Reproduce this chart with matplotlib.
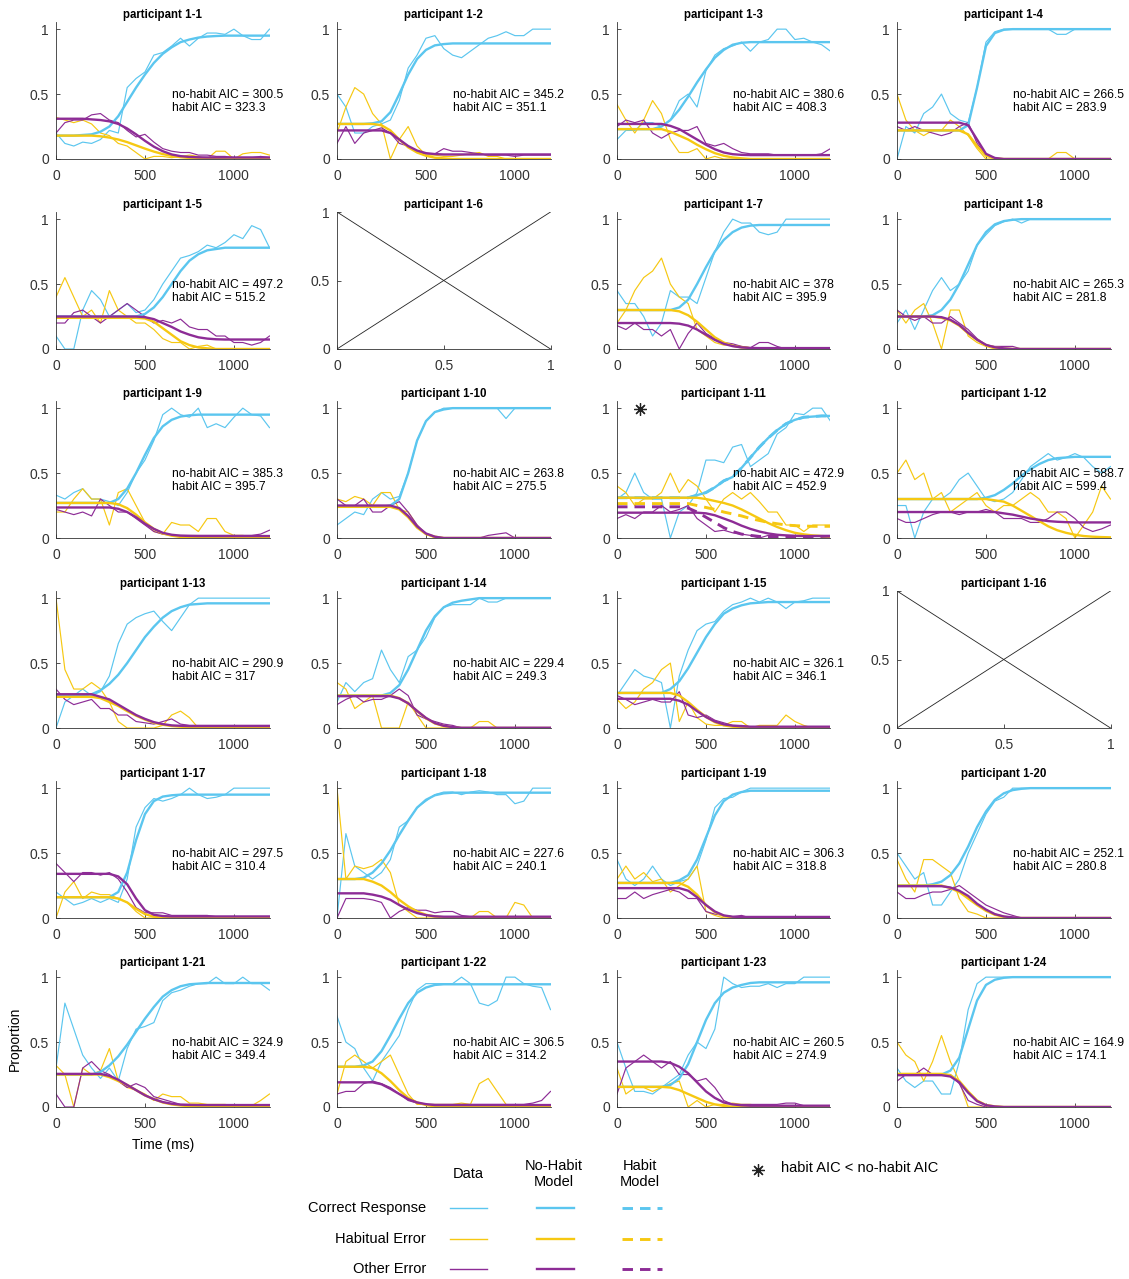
import matplotlib.pyplot as plt
from matplotlib.lines import Line2D

plt.rcParams['font.family'] = ['Liberation Sans', 'DejaVu Sans']

W, H = 1129, 1279
t = list(range(0, 1201, 50))   # ms, one value every 50 ms

c_blue = '#5BC6EF'
c_yel = '#F6C812'
c_pur = '#8D2C96'
axis_col = '#333333'

# ---------------- per participant: data (c, h, o) and no-habit model (cm, hm, om) ----------------
p1_c = [0.2,0.12,0.1,0.13,0.12,0.15,0.22,0.2,0.55,0.62,0.67,0.8,0.82,0.87,0.93,0.87,0.93,0.97,0.97,0.96,1.0,0.95,0.92,0.92,1.0]
p1_h = [0.32,0.3,0.28,0.3,0.27,0.2,0.18,0.12,0.1,0.05,0.0,0.02,0.02,0.01,0.02,0.03,0.02,0.0,0.06,0.06,0.0,0.04,0.05,0.05,0.03]
p1_o = [0.2,0.28,0.3,0.3,0.34,0.35,0.3,0.28,0.22,0.17,0.19,0.13,0.08,0.06,0.05,0.05,0.03,0.03,0.02,0.02,0.01,0.01,0.01,0.02,0.01]
p1_cm = [0.18,0.18,0.18,0.185,0.19,0.21,0.25,0.33,0.44,0.55,0.65,0.74,0.81,0.86,0.9,0.92,0.935,0.943,0.947] + [0.95]*6
p1_hm = [0.18]*5 + [0.175,0.165,0.15,0.13,0.105,0.08,0.057,0.038,0.024,0.014,0.008,0.005,0.003,0.002,0.001] + [0]*5
p1_om = [0.31]*4 + [0.305,0.3,0.29,0.27,0.235,0.19,0.14,0.095,0.06,0.035,0.022,0.016,0.013] + [0.012]*8

p2_c = [0.5,0.4,0.2,0.2,0.25,0.27,0.3,0.45,0.7,0.8,0.93,0.95,0.85,0.8,0.78,0.83,0.88,0.93,0.95,0.98,0.95,0.95,1.0,1.0,1.0]
p2_h = [0.2,0.4,0.55,0.5,0.35,0.27,0.0,0.15,0.25,0.1,0.03,0.03,0.02,0.02,0.03,0.04,0.05,0.02,0.02,0.0,0.0,0.0,0.0,0.0,0.0]
p2_o = [0.12,0.25,0.12,0.2,0.22,0.24,0.2,0.12,0.1,0.05,0.04,0.04,0.08,0.06,0.06,0.05,0.04,0.03,0.03,0.03,0.02,0.03,0.03,0.03,0.03]
p2_cm = [0.27]*4 + [0.275,0.29,0.36,0.5,0.65,0.77,0.84,0.875,0.885] + [0.89]*12
p2_hm = [0.27]*5 + [0.26,0.22,0.15,0.09,0.05,0.025,0.01,0.005] + [0]*12
p2_om = [0.22]*6 + [0.2,0.15,0.1,0.065,0.045,0.038] + [0.035]*13

p3_c = [0.15,0.22,0.22,0.28,0.28,0.25,0.3,0.45,0.5,0.4,0.68,0.8,0.85,0.87,0.9,0.83,0.9,0.92,1.0,1.0,0.92,0.93,0.9,0.88,0.83]
p3_h = [0.42,0.3,0.2,0.3,0.45,0.35,0.15,0.05,0.05,0.08,0.0,0.02,0.0,0.0] + [0]*11
p3_o = [0.25,0.3,0.28,0.3,0.2,0.16,0.2,0.22,0.22,0.25,0.12,0.1,0.12,0.08,0.05,0.04,0.04,0.04,0.03,0.03,0.03,0.03,0.03,0.04,0.08]
p3_cm = [0.23]*5 + [0.25,0.3,0.38,0.48,0.59,0.69,0.78,0.84,0.88,0.895] + [0.9]*10
p3_hm = [0.23]*6 + [0.21,0.18,0.15,0.11,0.075,0.045,0.025,0.012,0.005] + [0]*10
p3_om = [0.27]*6 + [0.255,0.23,0.19,0.15,0.11,0.075,0.05,0.037,0.032] + [0.03]*10

p4_c = [0.0,0.25,0.2,0.35,0.4,0.5,0.35,0.3,0.28,0.55,0.9,0.98] + [1.0]*6 + [0.96,0.96] + [1.0]*5
p4_h = [0.5,0.3,0.22,0.18,0.22,0.22,0.3,0.25,0.18,0.08] + [0]*8 + [0.05,0.05] + [0]*5
p4_o = [0.25,0.22,0.25,0.22,0.2,0.18,0.2,0.25,0.28,0.12,0.03] + [0]*14
p4_cm = [0.22]*8 + [0.26,0.55,0.87,0.97,0.995] + [1.0]*12
p4_hm = [0.22]*8 + [0.19,0.1,0.025,0.005] + [0]*13
p4_om = [0.28]*8 + [0.26,0.15,0.04,0.008] + [0]*13

p5_c = [0.1,0.0,0.0,0.3,0.45,0.38,0.25,0.3,0.35,0.28,0.3,0.38,0.5,0.6,0.7,0.72,0.75,0.8,0.78,0.82,0.88,0.85,0.95,0.92,0.78]
p5_h = [0.4,0.55,0.4,0.25,0.3,0.2,0.45,0.3,0.25,0.2,0.2,0.15,0.08,0.05,0.05,0.0,0.02,0.03] + [0]*7
p5_o = [0.2,0.2,0.28,0.3,0.25,0.2,0.25,0.3,0.35,0.3,0.25,0.2,0.22,0.2,0.23,0.17,0.15,0.15,0.1,0.1,0.05,0.05,0.03,0.05,0.1]
p5_cm = [0.25]*10 + [0.27,0.32,0.4,0.5,0.6,0.68,0.73,0.76,0.77] + [0.78]*6
p5_hm = [0.24]*10 + [0.235,0.21,0.16,0.11,0.06,0.03,0.012,0.005] + [0]*7
p5_om = [0.25]*10 + [0.245,0.23,0.2,0.17,0.135,0.11,0.09,0.08,0.075] + [0.073]*6

p7_c = [0.45,0.35,0.35,0.25,0.1,0.2,0.45,0.4,0.4,0.35,0.55,0.75,0.9,1.0,0.97,0.97,0.9,0.88,0.9] + [1.0]*6
p7_h = [0.2,0.3,0.45,0.55,0.6,0.7,0.5,0.4,0.35,0.15,0.1,0.05,0.03,0.03,0.02,0.01] + [0]*9
p7_o = [0.18,0.15,0.2,0.15,0.15,0.1,0.15,0.0,0.12,0.2,0.12,0.08,0.05,0.04,0.02,0.01,0.05,0.05,0.02] + [0]*6
p7_cm = [0.3]*7 + [0.32,0.38,0.5,0.63,0.75,0.84,0.9,0.935,0.95] + [0.955]*9
p7_hm = [0.3]*7 + [0.29,0.26,0.21,0.15,0.09,0.05,0.025,0.012,0.006] + [0]*9
p7_om = [0.2]*7 + [0.195,0.18,0.15,0.11,0.07,0.04,0.022,0.012,0.008] + [0.007]*9

p8_c = [0.2,0.3,0.15,0.3,0.45,0.55,0.45,0.5,0.6,0.8,0.88,0.95,0.98,1.0,0.97] + [1.0]*10
p8_h = [0.3,0.2,0.3,0.35,0.2,0.0,0.3,0.3,0.1,0.05,0.02] + [0]*14
p8_o = [0.3,0.25,0.22,0.25,0.2,0.2,0.25,0.2,0.15,0.08,0.03,0.02,0.02,0.02] + [0]*11
p8_cm = [0.25]*4 + [0.26,0.3,0.38,0.5,0.65,0.8,0.9,0.96,0.985,0.995] + [1.0]*11
p8_hm = [0.25]*5 + [0.24,0.22,0.18,0.12,0.07,0.03,0.012,0.004] + [0]*12
p8_om = [0.25]*5 + [0.245,0.225,0.185,0.125,0.072,0.032,0.013,0.005] + [0]*12

p9_c = [0.33,0.3,0.35,0.38,0.3,0.3,0.28,0.25,0.35,0.5,0.6,0.75,0.95,1.0,0.95,0.93,1.0,0.85,0.88,0.85,0.93,1.0,0.95,0.94,0.85]
p9_h = [0.2,0.2,0.3,0.38,0.3,0.3,0.1,0.35,0.38,0.25,0.12,0.05,0.03,0.12,0.1,0.1,0.05,0.15,0.15,0.05,0.02,0.02,0.01,0.0,0.0]
p9_o = [0.22,0.2,0.18,0.2,0.17,0.3,0.25,0.2,0.2,0.15,0.1,0.05,0.03] + [0.02]*10 + [0.03,0.06]
p9_cm = [0.27]*7 + [0.3,0.38,0.5,0.64,0.77,0.86,0.91,0.935,0.945] + [0.95]*9
p9_hm = [0.27]*7 + [0.26,0.23,0.18,0.12,0.07,0.035,0.018,0.008,0.004] + [0]*9
p9_om = [0.235]*7 + [0.225,0.2,0.16,0.11,0.07,0.04,0.025,0.018,0.016] + [0.015]*9

p10_c = [0.1,0.15,0.2,0.18,0.3,0.35,0.3,0.32,0.5,0.75,0.9,0.97] + [1.0]*7 + [0.92] + [1.0]*5
p10_h = [0.3,0.28,0.32,0.3,0.25,0.35,0.35,0.22,0.2,0.1,0.03] + [0]*14
p10_o = [0.3,0.25,0.25,0.3,0.2,0.2,0.25,0.28,0.2,0.1,0.03,0.01] + [0]*5 + [0.02,0.03,0.04] + [0]*5
p10_cm = [0.24]*6 + [0.25,0.3,0.5,0.75,0.9,0.97,0.99] + [1.0]*12
p10_hm = [0.24]*7 + [0.22,0.16,0.08,0.03,0.01] + [0]*13
p10_om = [0.25]*7 + [0.23,0.17,0.09,0.035,0.01] + [0]*13

p11_c = [0.3,0.35,0.5,0.35,0.3,0.3,0.0,0.2,0.25,0.35,0.6,0.6,0.58,0.7,0.72,0.55,0.6,0.65,0.8,0.85,0.96,0.95,1.0,1.0,0.9]
p11_h = [0.4,0.35,0.25,0.3,0.3,0.35,0.5,0.35,0.45,0.4,0.3,0.2,0.3,0.35,0.3,0.35,0.28,0.2,0.2,0.1,0.1,0.05,0.1,0.1,0.1]
p11_o = [0.15,0.18,0.15,0.2,0.2,0.25,0.2,0.22,0.25,0.15,0.1,0.05,0.06,0.04,0.03,0.02,0.0] + [0.02]*8
p11_cm = [0.31]*9 + [0.33,0.35,0.39,0.44,0.47,0.54,0.62,0.7,0.77,0.83,0.88,0.91,0.93,0.935,0.94,0.94]
p11_hm = [0.31]*10 + [0.3,0.285,0.27,0.25,0.22,0.185,0.15,0.115,0.085,0.06,0.04,0.028,0.02,0.015,0.012]
p11_om = [0.195]*9 + [0.195,0.19,0.175,0.15,0.125,0.095,0.07,0.05,0.035,0.025,0.02,0.016] + [0.015]*4
# habit model (only differs visibly for 1-11)
p11_ch = [0.31]*9 + [0.33,0.35,0.39,0.44,0.47,0.54,0.62,0.7,0.77,0.83,0.88,0.91,0.93,0.935,0.94,0.94]
p11_hh = [0.265]*9 + [0.25,0.235,0.22,0.2,0.185,0.17,0.15,0.135,0.12,0.11,0.1,0.095,0.092,0.09,0.09,0.09]
p11_oh = [0.24]*8 + [0.23,0.2,0.16,0.12,0.08,0.05,0.03,0.02,0.012,0.008,0.006] + [0.005]*6

p12_c = [0.25,0.25,0.0,0.2,0.3,0.3,0.35,0.45,0.5,0.4,0.3,0.28,0.3,0.35,0.45,0.55,0.6,0.65,0.6,0.62,0.65,0.62,0.55,0.5,0.55]
p12_h = [0.5,0.6,0.45,0.5,0.3,0.35,0.2,0.25,0.3,0.35,0.25,0.2,0.25,0.25,0.3,0.35,0.3,0.2,0.2,0.15,0.0,0.1,0.2,0.4,0.3]
p12_o = [0.15,0.12,0.12,0.15,0.18,0.2,0.2,0.18,0.2,0.2,0.22,0.2,0.15,0.15,0.15,0.12,0.12,0.15,0.2,0.2,0.15,0.08,0.05,0.07,0.1]
p12_cm = [0.3]*10 + [0.31,0.33,0.37,0.42,0.48,0.53,0.57,0.6,0.615,0.62] + [0.625]*5
p12_hm = [0.3]*11 + [0.29,0.28,0.25,0.21,0.17,0.13,0.09,0.06,0.04,0.025,0.015,0.01,0.007,0.005]
p12_om = [0.2]*12 + [0.19,0.18,0.165,0.15,0.14,0.13,0.125,0.122] + [0.12]*5

p13_c = [0.0,0.2,0.25,0.3,0.25,0.28,0.4,0.65,0.8,0.85,0.88,0.9,0.82,0.75,0.85,0.95] + [1.0]*9
p13_h = [1.0,0.45,0.3,0.3,0.35,0.3,0.2,0.05,0.0,0.0,0.0,0.0,0.02,0.1,0.13,0.08] + [0]*9
p13_o = [0.3,0.22,0.18,0.2,0.22,0.15,0.15,0.1,0.1,0.05,0.04,0.03,0.05,0.07,0.03] + [0.02]*10
p13_cm = [0.25]*4 + [0.26,0.29,0.34,0.41,0.5,0.6,0.7,0.78,0.85,0.9,0.93,0.95,0.955] + [0.96]*8
p13_hm = [0.24]*5 + [0.23,0.2,0.17,0.13,0.095,0.065,0.04,0.025,0.015,0.01,0.006,0.004] + [0]*8
p13_om = [0.26]*5 + [0.24,0.22,0.18,0.14,0.1,0.07,0.045,0.03,0.02,0.017] + [0.015]*10

p14_c = [0.2,0.35,0.28,0.35,0.38,0.6,0.45,0.35,0.55,0.6,0.7,0.85,0.93,0.95,0.95,0.95,1.0,0.97,0.97] + [1.0]*6
p14_h = [0.35,0.3,0.15,0.2,0.25,0.0,0.0,0.0,0.2,0.1,0.0,0.0,0.0,0.0,0.0,0.0,0.05,0.05] + [0]*7
p14_o = [0.18,0.22,0.25,0.2,0.22,0.22,0.25,0.3,0.25,0.1,0.07,0.05,0.03,0.02] + [0]*11
p14_cm = [0.25]*6 + [0.27,0.33,0.45,0.6,0.75,0.86,0.93,0.965,0.98,0.99] + [1.0]*9
p14_hm = [0.25]*7 + [0.23,0.19,0.13,0.075,0.035,0.015,0.005] + [0]*11
p14_om = [0.245]*7 + [0.228,0.19,0.132,0.078,0.038,0.017,0.007] + [0.002]*11

p15_c = [0.25,0.35,0.45,0.4,0.38,0.35,0.0,0.4,0.6,0.75,0.8,0.82,0.9,0.95,0.97,1.0,0.97,1.0,0.97,0.92,0.97,0.98,1.0,1.0,1.0]
p15_h = [0.22,0.15,0.2,0.3,0.35,0.45,0.5,0.05,0.2,0.08,0.03,0.02,0.02,0.05,0.05,0.0,0.02,0.02,0.02,0.1,0.05,0.02,0.0,0.0,0.0]
p15_o = [0.25,0.22,0.18,0.2,0.22,0.2,0.2,0.28,0.1,0.08,0.1,0.06,0.04,0.02,0.02,0.01] + [0]*9
p15_cm = [0.27]*6 + [0.3,0.36,0.46,0.58,0.7,0.8,0.88,0.92,0.945,0.96,0.965] + [0.97]*8
p15_hm = [0.27]*7 + [0.25,0.2,0.14,0.085,0.045,0.02,0.01,0.005] + [0]*10
p15_om = [0.225]*7 + [0.21,0.18,0.13,0.085,0.05,0.028,0.018,0.013] + [0.01]*10

p17_c = [0.2,0.15,0.1,0.12,0.15,0.12,0.15,0.12,0.3,0.7,0.85,0.92,0.9,0.92,0.95,1.0,0.95,0.92,0.93,0.95] + [1.0]*5
p17_h = [0.0,0.2,0.28,0.15,0.2,0.18,0.18,0.15,0.12,0.05] + [0]*15
p17_o = [0.42,0.35,0.28,0.35,0.35,0.33,0.35,0.3,0.2,0.08,0.04,0.04,0.04,0.02,0.02,0.02,0.02,0.02] + [0.01]*7
p17_cm = [0.16]*7 + [0.2,0.35,0.6,0.8,0.9,0.935,0.945] + [0.95]*11
p17_hm = [0.16]*7 + [0.15,0.12,0.07,0.03,0.01] + [0]*13
p17_om = [0.34]*7 + [0.32,0.26,0.15,0.06,0.025,0.015] + [0.012]*12

p18_c = [0.0,0.65,0.4,0.35,0.3,0.35,0.45,0.7,0.75,0.85,0.9,0.95,0.97,0.97,0.95,0.97,0.98,0.97,0.95,0.95,0.88,0.9,1.0,1.0,1.0]
p18_h = [1.0,0.3,0.4,0.38,0.4,0.45,0.35,0.1,0.05,0.0,0.0,0.0,0.0,0.0,0.0,0.0,0.05,0.05,0.0,0.0,0.12,0.1,0.0,0.0,0.0]
p18_o = [0.0,0.15,0.15,0.15,0.14,0.12,0.0,0.05,0.08,0.06,0.06,0.04,0.05,0.05,0.02,0.01] + [0]*9
p18_cm = [0.3]*3 + [0.31,0.35,0.42,0.52,0.64,0.75,0.85,0.91,0.945,0.96] + [0.965]*12
p18_hm = [0.3]*4 + [0.28,0.25,0.2,0.14,0.09,0.05,0.025,0.012,0.005] + [0]*12
p18_om = [0.19]*4 + [0.18,0.165,0.14,0.1,0.065,0.038,0.022,0.013] + [0.01]*13

p19_c = [0.45,0.3,0.25,0.3,0.4,0.3,0.25,0.28,0.3,0.4,0.6,0.85,0.92,0.93,0.97] + [1.0]*10
p19_h = [0.3,0.4,0.3,0.35,0.28,0.3,0.2,0.25,0.3,0.4,0.05,0.02] + [0]*13
p19_o = [0.15,0.15,0.2,0.15,0.18,0.2,0.22,0.2,0.15,0.15,0.05,0.03,0.02,0.01,0.02] + [0]*10
p19_cm = [0.27]*7 + [0.29,0.33,0.45,0.62,0.79,0.9,0.95,0.97] + [0.98]*10
p19_hm = [0.27]*8 + [0.24,0.18,0.1,0.045,0.015,0.005] + [0]*11
p19_om = [0.23]*8 + [0.21,0.16,0.1,0.05,0.02,0.01] + [0.008]*11

p20_c = [0.5,0.4,0.3,0.35,0.1,0.1,0.2,0.3,0.5,0.65,0.8,0.9,0.93] + [1.0]*12
p20_h = [0.45,0.3,0.2,0.45,0.45,0.4,0.35,0.15,0.05,0.03] + [0]*15
p20_o = [0.2,0.15,0.15,0.18,0.2,0.2,0.22,0.25,0.2,0.15,0.1,0.07,0.04,0.02] + [0]*11
p20_cm = [0.25]*4 + [0.26,0.28,0.33,0.42,0.55,0.7,0.82,0.91,0.96,0.985,0.995] + [1.0]*10
p20_hm = [0.25]*6 + [0.23,0.2,0.15,0.1,0.055,0.025,0.01] + [0]*12
p20_om = [0.245]*6 + [0.235,0.21,0.17,0.11,0.065,0.03,0.012,0.005] + [0]*11

p21_c = [0.3,0.8,0.6,0.4,0.3,0.22,0.3,0.2,0.45,0.6,0.62,0.65,0.82,0.88,0.9,0.93,0.95,0.95,1.0,0.95,0.95,1.0,0.95,0.95,0.9]
p21_h = [0.32,0.25,0.0,0.3,0.25,0.28,0.45,0.2,0.15,0.13,0.1,0.05,0.1,0.08,0.08,0.03,0.03,0.02,0.02,0.02,0.01,0.01,0.01,0.05,0.1]
p21_o = [0.1,0.0,0.0,0.3,0.35,0.28,0.25,0.2,0.15,0.18,0.15,0.08,0.06,0.04,0.02,0.02] + [0.01]*9
p21_cm = [0.25]*5 + [0.27,0.32,0.39,0.48,0.58,0.68,0.77,0.85,0.9,0.93,0.945,0.95] + [0.955]*8
p21_hm = [0.25]*6 + [0.23,0.2,0.17,0.13,0.09,0.06,0.035,0.02,0.012,0.006,0.003] + [0]*8
p21_om = [0.255]*6 + [0.24,0.21,0.17,0.13,0.09,0.06,0.038,0.025,0.018,0.016] + [0.015]*9

p22_c = [0.7,0.5,0.45,0.3,0.2,0.35,0.45,0.55,0.75,0.9,0.95,0.95,0.95,0.95,1.0,0.95,0.8,0.78,0.82,1.0,1.0,0.95,0.93,0.92,0.75]
p22_h = [0.1,0.35,0.4,0.35,0.3,0.35,0.4,0.25,0.1,0.02,0.02,0.02,0.02,0.02,0.03,0.02,0.18,0.22,0.12,0.02] + [0]*5
p22_o = [0.1,0.12,0.12,0.18,0.2,0.18,0.15,0.1,0.05,0.03] + [0.02]*12 + [0.03,0.05,0.12]
p22_cm = [0.31]*3 + [0.32,0.35,0.43,0.55,0.68,0.8,0.88,0.92,0.94] + [0.945]*13
p22_hm = [0.31]*4 + [0.3,0.26,0.2,0.13,0.07,0.035,0.015,0.005] + [0]*13
p22_om = [0.19]*5 + [0.175,0.14,0.1,0.06,0.035,0.022] + [0.015]*14

p23_c = [0.5,0.3,0.12,0.12,0.1,0.15,0.2,0.25,0.4,0.5,0.45,0.6,1.0,0.95,0.92,0.93,0.93,0.95,0.92,0.95,0.95] + [1.0]*4
p23_h = [0.3,0.1,0.15,0.15,0.12,0.15,0.18,0.2,0.0,0.05,0.0,0.02,0.02,0.03,0.02,0.02,0.01] + [0]*8
p23_o = [0.1,0.3,0.35,0.4,0.35,0.3,0.35,0.25,0.25,0.2,0.22,0.15,0.05,0.02,0.02,0.02,0.02,0.02,0.02,0.03,0.03,0.01] + [0]*3
p23_cm = [0.155]*6 + [0.17,0.22,0.33,0.5,0.67,0.8,0.88,0.92,0.94,0.955] + [0.96]*9
p23_hm = [0.155]*6 + [0.15,0.13,0.1,0.07,0.04,0.02,0.008,0.003] + [0]*11
p23_om = [0.35]*6 + [0.34,0.31,0.26,0.19,0.12,0.07,0.035,0.02,0.013] + [0.01]*10

p24_c = [0.3,0.2,0.15,0.2,0.2,0.1,0.1,0.35,0.75,0.95] + [1.0]*15
p24_h = [0.5,0.4,0.35,0.2,0.35,0.55,0.35,0.2] + [0]*17
p24_o = [0.2,0.25,0.25,0.3,0.25,0.25,0.25,0.18,0.05,0.02] + [0]*15
p24_cm = [0.25]*6 + [0.28,0.38,0.6,0.82,0.94,0.98,0.995] + [1.0]*12
p24_hm = [0.255]*6 + [0.245,0.2,0.12,0.05,0.015,0.005] + [0]*13
p24_om = [0.245]*6 + [0.235,0.19,0.11,0.045,0.014,0.004] + [0]*13

aic_nohabit = [300.5, 345.2, 380.6, 266.5, 497.2, None, 378, 265.3, 385.3, 263.8, 472.9, 588.7,
               290.9, 229.4, 326.1, None, 297.5, 227.6, 306.3, 252.1, 324.9, 306.5, 260.5, 164.9]
aic_habit = [323.3, 351.1, 408.3, 283.9, 515.2, None, 395.9, 281.8, 395.7, 275.5, 452.9, 599.4,
             317, 249.3, 346.1, None, 310.4, 240.1, 318.8, 280.8, 349.4, 314.2, 274.9, 174.1]

panels = [
    (p1_c, p1_h, p1_o, p1_cm, p1_hm, p1_om), (p2_c, p2_h, p2_o, p2_cm, p2_hm, p2_om),
    (p3_c, p3_h, p3_o, p3_cm, p3_hm, p3_om), (p4_c, p4_h, p4_o, p4_cm, p4_hm, p4_om),
    (p5_c, p5_h, p5_o, p5_cm, p5_hm, p5_om), None,
    (p7_c, p7_h, p7_o, p7_cm, p7_hm, p7_om), (p8_c, p8_h, p8_o, p8_cm, p8_hm, p8_om),
    (p9_c, p9_h, p9_o, p9_cm, p9_hm, p9_om), (p10_c, p10_h, p10_o, p10_cm, p10_hm, p10_om),
    (p11_c, p11_h, p11_o, p11_cm, p11_hm, p11_om), (p12_c, p12_h, p12_o, p12_cm, p12_hm, p12_om),
    (p13_c, p13_h, p13_o, p13_cm, p13_hm, p13_om), (p14_c, p14_h, p14_o, p14_cm, p14_hm, p14_om),
    (p15_c, p15_h, p15_o, p15_cm, p15_hm, p15_om), None,
    (p17_c, p17_h, p17_o, p17_cm, p17_hm, p17_om), (p18_c, p18_h, p18_o, p18_cm, p18_hm, p18_om),
    (p19_c, p19_h, p19_o, p19_cm, p19_hm, p19_om), (p20_c, p20_h, p20_o, p20_cm, p20_hm, p20_om),
    (p21_c, p21_h, p21_o, p21_cm, p21_hm, p21_om), (p22_c, p22_h, p22_o, p22_cm, p22_hm, p22_om),
    (p23_c, p23_h, p23_o, p23_cm, p23_hm, p23_om), (p24_c, p24_h, p24_o, p24_cm, p24_hm, p24_om),
]
habit_models = {10: (p11_ch, p11_hh, p11_oh)}
star_panels = [10]

col_left = [56, 337, 617, 897]
row_zero = [159, 349, 538, 728, 918, 1107]
ax_w, ax_h = 213.5, 137

data_lw, model_lw = 0.85, 1.7
dash = (0, (3.6, 2.4))

fig = plt.figure(figsize=(W / 100, H / 100), dpi=100)

for i, pan in enumerate(panels):
    r, c = divmod(i, 4)
    ax = fig.add_axes([col_left[c] / W, (H - row_zero[r]) / H, ax_w / W, ax_h / H])
    for s in ['top', 'right']:
        ax.spines[s].set_visible(False)
    for s in ['left', 'bottom']:
        ax.spines[s].set_color(axis_col)
        ax.spines[s].set_linewidth(0.6)
    ax.tick_params(direction='in', length=3, width=0.6, colors=axis_col, labelsize=10)
    ax.tick_params(axis='x', pad=7)
    ax.tick_params(axis='y', pad=5)
    ax.set_title('participant 1-%d' % (i + 1), fontsize=8.3, fontweight='bold', pad=3)

    if pan is None:
        # empty participant: MATLAB draws the default cross
        ax.plot([0, 1], [0, 1], color='#222222', lw=0.6)
        ax.plot([0, 1], [1, 0], color='#222222', lw=0.6)
        ax.set_xlim(0, 1)
        ax.set_ylim(0, 1)
        ax.set_xticks([0, 0.5, 1])
        ax.set_xticklabels(['0', '0.5', '1'])
        ax.set_yticks([0, 0.5, 1])
        ax.set_yticklabels(['0', '0.5', '1'])
        continue

    dc, dh, do, mc, mh, mo = pan
    ax.plot(t, dc, color=c_blue, lw=data_lw)
    ax.plot(t, dh, color=c_yel, lw=data_lw)
    ax.plot(t, do, color=c_pur, lw=data_lw)
    if i in habit_models:
        hc, hh, ho = habit_models[i]
        ax.plot(t, hc, color=c_blue, lw=model_lw + 0.4, ls=dash)
        ax.plot(t, hh, color=c_yel, lw=model_lw + 0.4, ls=dash)
        ax.plot(t, ho, color=c_pur, lw=model_lw + 0.4, ls=dash)
    ax.plot(t, mc, color=c_blue, lw=model_lw)
    ax.plot(t, mh, color=c_yel, lw=model_lw)
    ax.plot(t, mo, color=c_pur, lw=model_lw)

    ax.set_xlim(0, 1200)
    ax.set_ylim(0, 1.055)
    ax.set_xticks([0, 500, 1000])
    ax.set_yticks([0, 0.5, 1])
    ax.set_yticklabels(['0', '0.5', '1'])

    ax.text(652, 0.49, 'no-habit AIC = %g' % aic_nohabit[i], fontsize=8.7, va='center', ha='left', clip_on=False)
    ax.text(652, 0.39, 'habit AIC = %g' % aic_habit[i], fontsize=8.7, va='center', ha='left', clip_on=False)
    if i in star_panels:
        ax.plot([128], [0.99], marker=(8, 2, 0), ms=9, color='#222222', mew=0.9, clip_on=False)

    if i == 20:
        ax.set_ylabel('Proportion', fontsize=10, labelpad=6)
        ax.set_xlabel('Time (ms)', fontsize=10, labelpad=5)


# ---------------- legend drawn as a small table ----------------
def fx(x):
    return x / W


def fy(y):
    return 1 - y / H


fig.text(fx(468), fy(1174), 'Data', ha='center', va='center', fontsize=10.5)
fig.text(fx(554), fy(1174), 'No-Habit\nModel', ha='center', va='center', fontsize=10.5, linespacing=1.1)
fig.text(fx(640), fy(1174), 'Habit\nModel', ha='center', va='center', fontsize=10.5, linespacing=1.1)

leg_rows = ['Correct Response', 'Habitual Error', 'Other Error']
leg_cols = [c_blue, c_yel, c_pur]
leg_y = [1208, 1239, 1269]
for name, col, y in zip(leg_rows, leg_cols, leg_y):
    fig.text(fx(426), fy(y), name, ha='right', va='center', fontsize=10.5)
    fig.add_artist(Line2D([fx(450), fx(487)], [fy(y), fy(y)], color=col, lw=1.0))
    fig.add_artist(Line2D([fx(537), fx(574)], [fy(y), fy(y)], color=col, lw=model_lw))
    fig.add_artist(Line2D([fx(622), fx(662)], [fy(y), fy(y)], color=col, lw=model_lw + 0.4, ls=dash))

fig.add_artist(Line2D([fx(758)], [fy(1170)], marker=(8, 2, 0), ms=9, color='#222222', mew=0.9))
fig.text(fx(781), fy(1168), 'habit AIC < no-habit AIC', ha='left', va='center', fontsize=10.5)

fig.savefig('out.png', dpi=100)
